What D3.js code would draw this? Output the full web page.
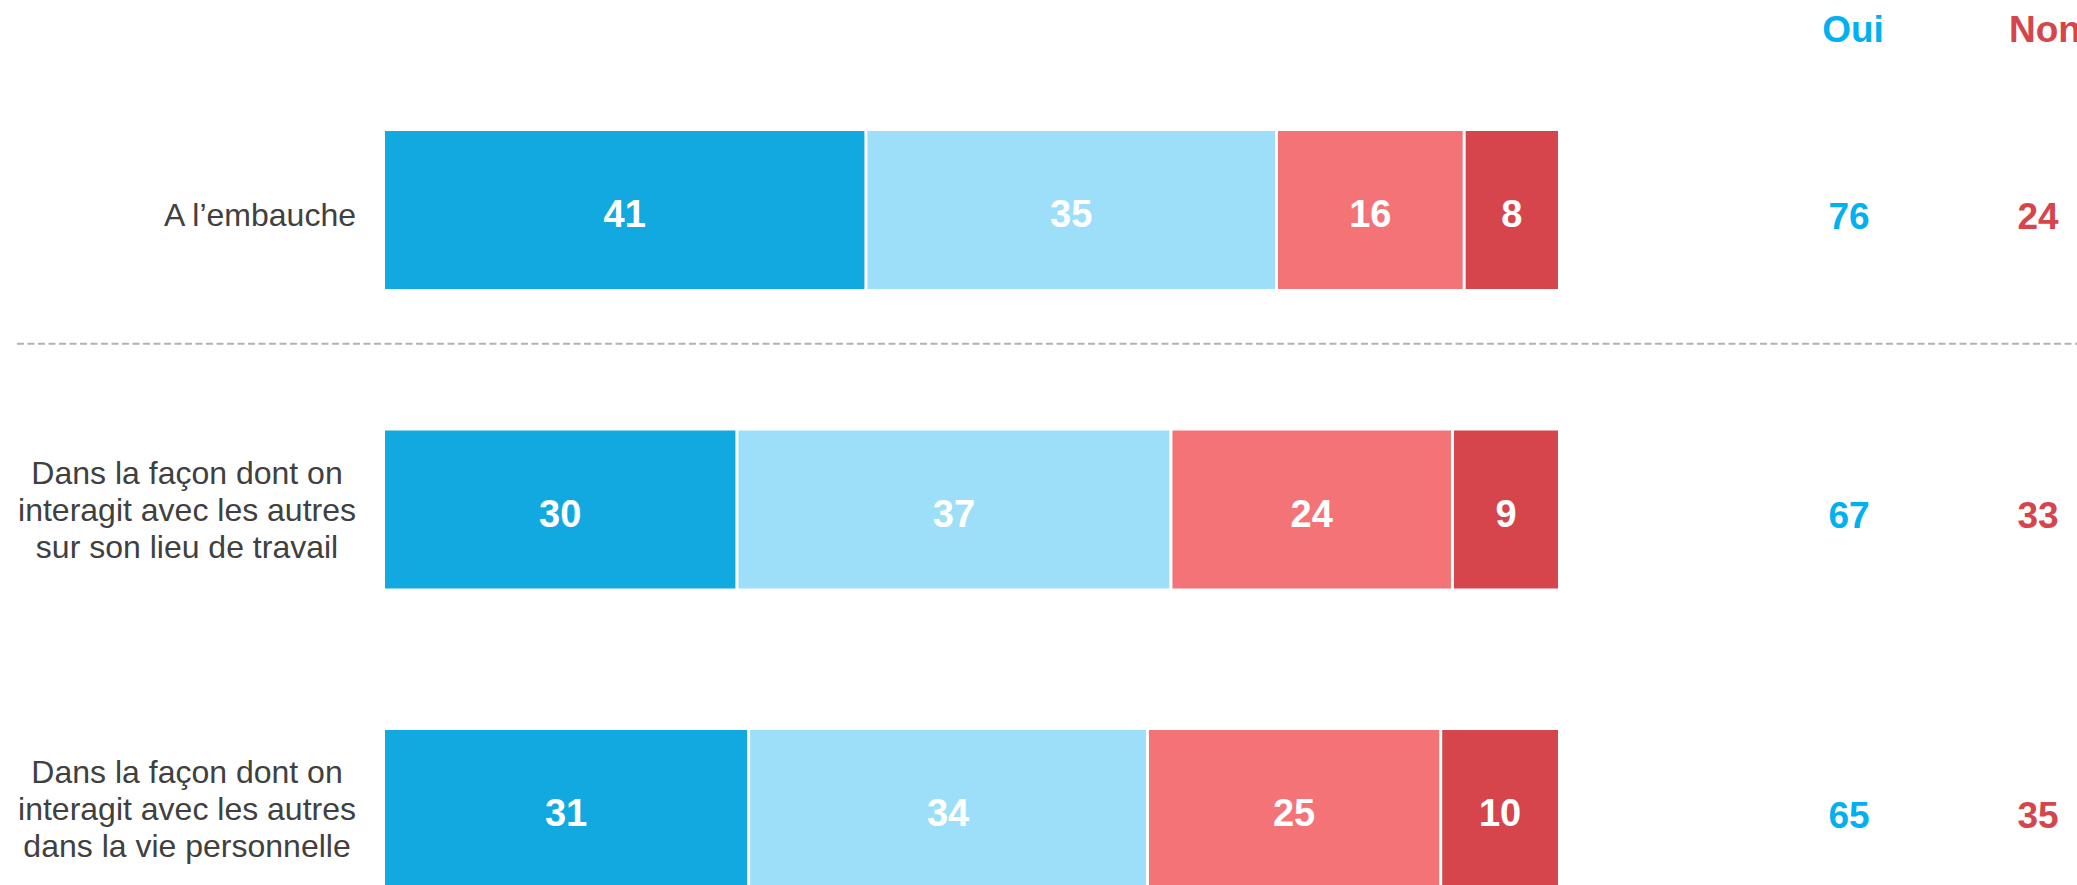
<!DOCTYPE html>
<html>
<head>
<meta charset="utf-8">
<script src="https://cdn.jsdelivr.net/npm/d3@7"></script>
<style>
  body { margin: 0; background: #fff; overflow: hidden; }
  svg { display: block; font-family: Arial, "Liberation Sans", sans-serif; }
</style>
</head>
<body>
<svg width="2077" height="885"></svg>
<script>
var categories = [
    ["A l’embauche"],
    ["Dans la façon dont on", "interagit avec les autres", "sur son lieu de travail"],
    ["Dans la façon dont on", "interagit avec les autres", "dans la vie personnelle"]
];

// tout à fait oui, plutôt oui, plutôt non, pas du tout
var seriesValues = [
    [41, 30, 31],
    [35, 37, 34],
    [16, 24, 25],
    [8, 9, 10]
];
var colors = ["#12a9e1", "#9ddff8", "#f37376", "#d6454b"];

var ouiTotals = [76, 67, 65],
    nonTotals = [24, 33, 35];
var headers = ["Oui", "Non"],
    headerColors = ["#00b0f0", "#d6454b"];

var svg = d3.select("svg"),
    width = +svg.attr("width"),
    height = +svg.attr("height");

var x = d3.scaleLinear().domain([0, 100]).range([385, 1558]);
var y = d3.scalePoint().domain(d3.range(categories.length)).range([210, 809]);
var barH = 158,
    gap = 1.5;
var cols = d3.scalePoint().domain(headers).range([1851, 2040]);

// stacked segments
categories.forEach(function (c, i) {
    var cum = 0;
    var row = svg.append("g");
    seriesValues.forEach(function (s, k) {
        var v = s[i];
        var x0 = x(cum) + (k == 0 ? 0 : gap),
            x1 = x(cum + v) - (k == seriesValues.length - 1 ? 0 : gap);
        row.append("rect")
            .attr("x", x0)
            .attr("y", y(i) - barH / 2)
            .attr("width", x1 - x0)
            .attr("height", barH)
            .attr("fill", colors[k]);
        row.append("text")
            .attr("x", (x0 + x1) / 2)
            .attr("y", y(i) + 4)
            .attr("dy", "0.35em")
            .attr("text-anchor", "middle")
            .attr("fill", "#fff")
            .attr("font-weight", "bold")
            .attr("font-size", 38)
            .text(v);
        cum += v;
    });
});

// category labels, block right-aligned, lines centered
var labelRight = 356,
    lineH = 37;
categories.forEach(function (lines, i) {
    var g = svg.append("g");
    var off = lines.length == 1 ? 5 : 0;
    var t = g.selectAll("text").data(lines).enter().append("text")
        .attr("font-size", 32)
        .attr("fill", "#404040")
        .attr("text-anchor", "middle")
        .attr("y", function (d, j) {
            return y(i) + off + (j - (lines.length - 1) / 2) * lineH;
        })
        .attr("dy", "0.35em")
        .text(function (d) { return d; });
    var w = d3.max(t.nodes(), function (n) { return n.getComputedTextLength(); });
    t.attr("x", labelRight - w / 2);
});

// separator
svg.append("line")
    .attr("x1", 17).attr("x2", width)
    .attr("y1", (y(0) + y(1)) / 2 - 16).attr("y2", (y(0) + y(1)) / 2 - 16)
    .attr("stroke", "#b3b3b3")
    .attr("stroke-width", 2)
    .attr("stroke-dasharray", "7,3.5");

// headers
svg.selectAll(".hdr").data(headers).enter().append("text")
    .attr("class", "hdr")
    .attr("x", function (d, i) { return cols(d) + (i == 1 ? 5 : 2); })
    .attr("y", 29)
    .attr("dy", "0.35em")
    .attr("text-anchor", "middle")
    .attr("font-weight", "bold")
    .attr("font-size", 37)
    .attr("fill", function (d, i) { return headerColors[i]; })
    .text(function (d) { return d; });

// totals
[ouiTotals, nonTotals].forEach(function (arr, k) {
    svg.selectAll(".tot" + k).data(arr).enter().append("text")
        .attr("class", "tot" + k)
        .attr("x", cols(headers[k]) - 2)
        .attr("y", function (d, i) { return y(i) + 6; })
        .attr("dy", "0.35em")
        .attr("text-anchor", "middle")
        .attr("font-weight", "bold")
        .attr("font-size", 37)
        .attr("fill", headerColors[k])
        .text(function (d) { return d; });
});
</script>
</body>
</html>
